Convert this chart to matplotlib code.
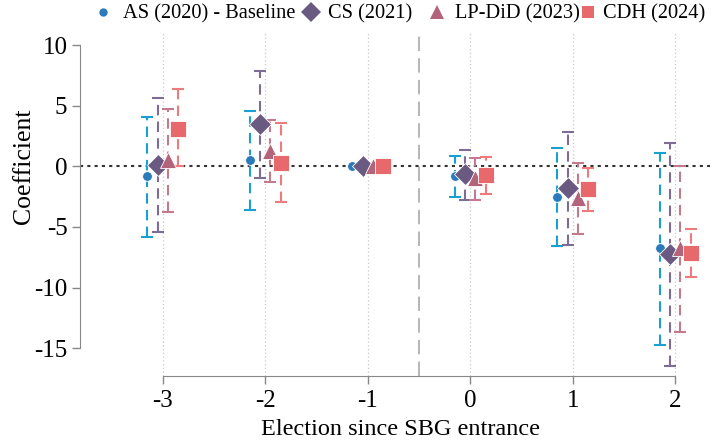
import numpy as np
import matplotlib
matplotlib.use("Agg")
import matplotlib.pyplot as plt
from matplotlib.lines import Line2D

plt.rcParams['font.family'] = ['Liberation Serif', 'DejaVu Serif']

events = [-3, -2, -1, 0, 1, 2]
series = ["AS (2020) - Baseline", "CS (2021)", "LP-DiD (2023)", "CDH (2024)"]

as_coef = [-0.8, 0.55, 0.0, -0.8, -2.5, -6.7]
as_lo = [-5.8, -3.6, np.nan, -2.5, -6.6, -14.7]
as_hi = [4.1, 4.6, np.nan, 0.85, 1.5, 1.1]

cs_coef = [0.15, 3.5, 0.0, -0.65, -1.8, -7.25]
cs_lo = [-5.4, -0.95, np.nan, -2.75, -6.45, -16.5]
cs_hi = [5.6, 7.9, np.nan, 1.35, 2.85, 1.9]

lp_coef = [0.5, 1.3, 0.0, -0.95, -2.6, -6.75]
lp_lo = [-3.8, -1.3, np.nan, -2.8, -5.6, -13.7]
lp_hi = [4.7, 3.8, np.nan, 0.65, 0.3, 0.0]

cdh_coef = [3.1, 0.3, 0.0, -0.75, -1.9, -7.15]
cdh_lo = [0.0, -2.9, np.nan, -2.3, -3.65, -9.1]
cdh_hi = [6.4, 3.6, np.nan, 0.8, -0.15, -5.2]

offsets = [-0.15, -0.05, 0.05, 0.15]
point_colors = ["#2b7bba", "#6a5a82", "#b3647a", "#e8696b"]
bar_colors = ["#1aa0d0", "#7d6c93", "#c27a8c", "#ee7a7c"]
markers = ["o", "D", "^", "s"]
msizes = [7, 11, 11, 11]

W, H = 717, 446
fig = plt.figure(figsize=(W / 100, H / 100), dpi=100)
ax = fig.add_axes([80 / W, (H - 376) / H, 630 / W, 343 / H])

x = np.array(events, dtype=float)
ax.set_xlim(-3.807, 2.34)
ax.set_ylim(-17.29, 11.0)

for xv in events:
    ax.axvline(xv, color="#c8c8c8", linestyle=(0, (1, 2)), linewidth=0.9, zorder=0)
ax.axvline(-0.5, color="#b0b0b0", linestyle=(0, (8, 4)), linewidth=1.3, zorder=0)
ax.axhline(0, color="#333333", linestyle=(0, (1.5, 2)), linewidth=1.5, zorder=1)

data = [(as_coef, as_lo, as_hi), (cs_coef, cs_lo, cs_hi),
        (lp_coef, lp_lo, lp_hi), (cdh_coef, cdh_lo, cdh_hi)]

for i, (c, lo, hi) in enumerate(data):
    c = np.array(c); lo = np.array(lo); hi = np.array(hi)
    xs = x + offsets[i]
    m = ~np.isnan(lo)
    yerr = np.vstack([c[m] - lo[m], hi[m] - c[m]])
    eb = ax.errorbar(xs[m], c[m], yerr=yerr, fmt="none", ecolor=bar_colors[i],
                     elinewidth=1.5, capsize=4, capthick=1.5, zorder=2)
    eb[2][0].set_linestyle((0, (5, 3)))
    ax.plot(xs, c, linestyle="none", marker=markers[i], color=point_colors[i],
            markersize=msizes[i], markeredgecolor="white", markeredgewidth=0.6, zorder=3)

ax.set_xticks(events)
ax.set_xticklabels([str(e) for e in events])
ax.set_yticks([10, 5, 0, -5, -10, -15])
ax.set_yticklabels(["10", "5", "0", "-5", "-10", "-15"])
ax.tick_params(axis="both", labelsize=18, color="#888888", length=6, width=1)
ax.tick_params(axis="x", pad=4)
ax.tick_params(axis="y", pad=3)

for s in ["top", "right"]:
    ax.spines[s].set_visible(False)
ax.spines["left"].set_bounds(-15, 10)
ax.spines["bottom"].set_bounds(-3, 2)
ax.spines["left"].set_color("#888888")
ax.spines["bottom"].set_color("#888888")

ax.set_xlabel("Election since SBG entrance", fontsize=17.5)
ax.set_ylabel("Coefficient", fontsize=18.5)
ax.xaxis.set_label_coords(0.508, -0.125)
ax.yaxis.set_label_coords(-0.072, 0.612)

# legend entries along the top (marker x, text x in pixels)
leg_marker_x = [103, 311, 437, 588]
leg_text_x = [123, 328, 455, 603]
leg_msizes = [6, 10, 10, 9]
for i in range(4):
    fig.add_artist(Line2D([leg_marker_x[i] / W], [(H - 12) / H], transform=fig.transFigure,
                          linestyle="none", marker=markers[i], color=point_colors[i],
                          markersize=leg_msizes[i], markeredgewidth=0))
    fig.text(leg_text_x[i] / W, (H - 14) / H, series[i], fontsize=14.7,
             ha="left", va="center")

fig.savefig("out.png", dpi=100)
